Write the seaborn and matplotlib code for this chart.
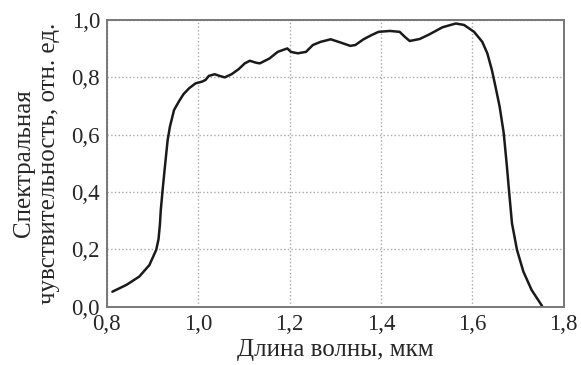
import numpy as np
import pandas as pd
import seaborn as sns
import matplotlib.pyplot as plt
from matplotlib.ticker import FuncFormatter

# спектральная чувствительность
wavelength = [0.812, 0.843, 0.871, 0.893, 0.908, 0.913, 0.916, 0.918, 0.922, 0.927, 0.933,
              0.938, 0.947, 0.958, 0.968, 0.980, 0.994, 1.008, 1.016, 1.023, 1.036,
              1.045, 1.058, 1.073, 1.088, 1.102, 1.113, 1.127, 1.135, 1.156, 1.174,
              1.195, 1.203, 1.218, 1.236, 1.251, 1.268, 1.290, 1.311, 1.333, 1.344,
              1.362, 1.380, 1.395, 1.420, 1.441, 1.452, 1.463, 1.485, 1.506, 1.535,
              1.564, 1.582, 1.604, 1.622, 1.633, 1.643, 1.651, 1.660, 1.669, 1.676,
              1.681, 1.687, 1.698, 1.712, 1.730, 1.753]
sensitivity = [0.052, 0.076, 0.105, 0.145, 0.198, 0.235, 0.285, 0.337, 0.407, 0.488, 0.581,
               0.628, 0.686, 0.717, 0.742, 0.762, 0.779, 0.785, 0.791, 0.805, 0.811,
               0.806, 0.800, 0.811, 0.828, 0.849, 0.858, 0.851, 0.849, 0.866, 0.889,
               0.901, 0.889, 0.884, 0.889, 0.913, 0.924, 0.933, 0.922, 0.910, 0.913,
               0.933, 0.948, 0.959, 0.962, 0.959, 0.942, 0.927, 0.934, 0.950, 0.975,
               0.988, 0.983, 0.959, 0.924, 0.884, 0.826, 0.767, 0.698, 0.605, 0.488,
               0.396, 0.291, 0.198, 0.122, 0.058, 0.002]

x_ticks = [0.8, 1.0, 1.2, 1.4, 1.6, 1.8]
y_ticks = [0.0, 0.2, 0.4, 0.6, 0.8, 1.0]

df = pd.DataFrame({'wl': wavelength, 's': sensitivity})

sns.set_style('whitegrid', {'grid.linestyle': ':', 'grid.color': '#aaaaaa',
                            'axes.edgecolor': '#777777'})
plt.rcParams['font.family'] = ['Liberation Serif', 'DejaVu Serif']

fig, ax = plt.subplots(figsize=(5.81, 3.65), dpi=100)
sns.lineplot(data=df, x='wl', y='s', ax=ax, color='#1a1a1a', linewidth=1.8)

ax.set_xlim(0.8, 1.8)
ax.set_ylim(0.0, 1.0)
ax.set_xticks(x_ticks)
ax.set_yticks(y_ticks)
comma = FuncFormatter(lambda v, p: f'{v:.1f}'.replace('.', ','))
ax.xaxis.set_major_formatter(comma)
ax.yaxis.set_major_formatter(comma)
ax.tick_params(axis='x', labelsize=16.5, length=0, pad=5)
ax.tick_params(axis='y', labelsize=16.5, length=0, pad=5)
for sp in ax.spines.values():
    sp.set_linewidth(1.4)
ax.grid(True, linewidth=1.0)

ax.set_xlabel('Длина волны, мкм', fontsize=18, labelpad=3)
ax.set_ylabel('Спектральная\nчувствительность, отн. ед.', fontsize=18,
              labelpad=8, linespacing=1.2)

fig.subplots_adjust(left=0.184, right=0.97, top=0.945, bottom=0.16)
fig.savefig('out.png', dpi=100)
